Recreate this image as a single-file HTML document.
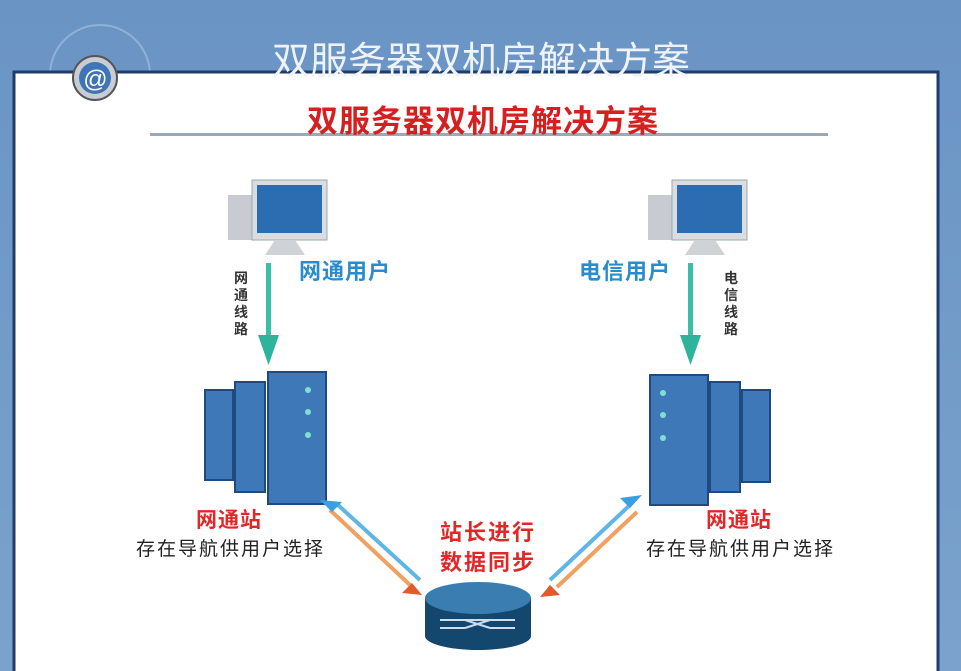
<!DOCTYPE html>
<html><head><meta charset="utf-8"><style>
body{margin:0;width:961px;height:671px;overflow:hidden;background:#729bc8;font-family:"Liberation Sans","Noto Sans CJK SC",sans-serif;position:relative}
.t{position:absolute;white-space:nowrap;font-weight:bold}
</style></head><body>
<div style="position:absolute;left:0;top:0;width:961px;height:671px;background:linear-gradient(#6a94c4,#7aa2cc)"></div>
<svg style="position:absolute;left:0;top:0" width="961" height="671">
<circle cx="100" cy="75" r="50" fill="none" stroke="#a9c4e2" stroke-width="2" opacity=".6"/>
<rect x="14" y="72" width="924" height="610" fill="#fff" stroke="#1f3c6a" stroke-width="3"/>
<circle cx="95" cy="78" r="22" fill="#c9ccd2" stroke="#555" stroke-width="2"/>
<circle cx="95" cy="78" r="16" fill="#3d75b8"/>
<text x="95" y="87" font-size="24" font-style="italic" fill="#fff" text-anchor="middle" font-family="Liberation Sans">@</text>
<rect x="150" y="133" width="678" height="3" fill="#9aa9ba"/>
<g><rect x="228" y="195" width="25" height="45" fill="#c8ccd2"/>
<rect x="252" y="180" width="75" height="60" fill="#d9dde2" stroke="#9aa" />
<rect x="257" y="185" width="65" height="48" fill="#2c6cb0"/>
<path d="M275 240 h20 l10 15 h-40z" fill="#cfd3d8"/></g>
<g transform="translate(420,0)"><rect x="228" y="195" width="25" height="45" fill="#c8ccd2"/>
<rect x="252" y="180" width="75" height="60" fill="#d9dde2" stroke="#9aa"/>
<rect x="257" y="185" width="65" height="48" fill="#2c6cb0"/>
<path d="M275 240 h20 l10 15 h-40z" fill="#cfd3d8"/></g>
<rect x="266" y="263" width="5" height="75" fill="#3bbfa8"/><path d="M258 335 h21 l-10.5 30z" fill="#2fb49c"/>
<rect x="688" y="263" width="5" height="75" fill="#3bbfa8"/><path d="M680 335 h21 l-10.5 30z" fill="#2fb49c"/>
<g fill="#3f78b8" stroke="#1e4a80" stroke-width="2">
<rect x="205" y="390" width="28" height="90"/><rect x="235" y="382" width="30" height="110"/><rect x="268" y="372" width="58" height="132"/>
<rect x="650" y="375" width="58" height="130"/><rect x="710" y="382" width="30" height="110"/><rect x="742" y="390" width="28" height="92"/>
</g>
<g fill="#7fe0d0"><circle cx="308" cy="390" r="3"/><circle cx="308" cy="412" r="3"/><circle cx="308" cy="435" r="3"/>
<circle cx="663" cy="393" r="3"/><circle cx="663" cy="415" r="3"/><circle cx="663" cy="438" r="3"/></g>
<line x1="330" y1="510" x2="410" y2="585" stroke="#f0a060" stroke-width="4"/>
<line x1="338" y1="505" x2="420" y2="580" stroke="#5fb6e6" stroke-width="4"/>
<path d="M320 500 l22 2 -10 10z" fill="#3a9ee0"/><path d="M422 595 l-20 -2 10 -10z" fill="#e25a2a"/>
<line x1="630" y1="505" x2="550" y2="580" stroke="#5fb6e6" stroke-width="4"/>
<line x1="637" y1="512" x2="557" y2="587" stroke="#f0a060" stroke-width="4"/>
<path d="M642 495 l-22 3 10 10z" fill="#3a9ee0"/><path d="M540 597 l20 -2 -10 -10z" fill="#e25a2a"/>
<rect x="425" y="598" width="106" height="38" fill="#14476e"/>
<ellipse cx="478" cy="636" rx="53" ry="14" fill="#14476e"/>
<ellipse cx="478" cy="598" rx="53" ry="16" fill="#3a7db0"/>
<path d="M440 620 h25 l25 0 h25 M440 628 h25 M490 628 h25 M465 620 l25 8 M465 628 l25 -8" stroke="#cde" stroke-width="2" fill="none"/>
</svg>
<div class="t" style="left:272px;top:30px;font-size:38px;color:#eef3fa;font-weight:normal">双服务器双机房解决方案</div>
<div class="t" style="left:307px;top:96px;font-size:31px;letter-spacing:1px;color:#d62020">双服务器双机房解决方案</div>
<div class="t" style="left:299px;top:254px;font-size:22px;letter-spacing:1px;color:#2a8ccc">网通用户</div>
<div class="t" style="left:579px;top:254px;font-size:22px;letter-spacing:1px;color:#2a8ccc">电信用户</div>
<div class="t" style="left:234px;top:270px;font-size:14px;line-height:17px;color:#333;width:14px;white-space:normal">网通线路</div>
<div class="t" style="left:724px;top:270px;font-size:14px;line-height:17px;color:#333;width:14px;white-space:normal">电信线路</div>
<div class="t" style="left:196px;top:504px;font-size:21px;letter-spacing:1px;color:#e02828">网通站</div>
<div class="t" style="left:136px;top:534px;font-size:19px;letter-spacing:2px;color:#222;font-weight:normal">存在导航供用户选择</div>
<div class="t" style="left:706px;top:504px;font-size:21px;letter-spacing:1px;color:#e02828">网通站</div>
<div class="t" style="left:646px;top:534px;font-size:19px;letter-spacing:2px;color:#222;font-weight:normal">存在导航供用户选择</div>
<div class="t" style="left:440px;top:518px;font-size:22px;line-height:30px;letter-spacing:2px;color:#e02828">站长进行<br>数据同步</div>
</body></html>
